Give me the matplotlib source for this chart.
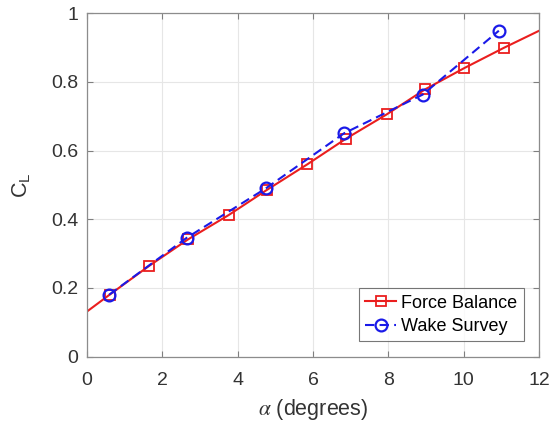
import matplotlib
matplotlib.use("Agg")
import matplotlib.pyplot as plt

plt.rcParams['font.family'] = ['Liberation Sans', 'DejaVu Sans']
plt.rcParams['mathtext.fontset'] = 'stix'

# force balance (end points 0 and 12 are the line extension, no marker)
fb_alpha = [0.0, 0.6, 1.65, 2.68, 3.76, 4.77, 5.85, 6.88, 7.95, 8.97, 10.01, 11.06, 12.0]
fb_cl = [0.131, 0.180, 0.264, 0.341, 0.412, 0.485, 0.560, 0.635, 0.705, 0.778, 0.840, 0.899, 0.949]

# wake survey
ws_alpha = [0.59, 2.65, 4.75, 6.82, 8.91, 10.93]
ws_cl = [0.180, 0.346, 0.490, 0.650, 0.763, 0.949]

fig = plt.figure(figsize=(5.57, 4.26), dpi=100)
ax = fig.add_axes([0.156, 0.163, 0.812, 0.806])

ax.plot(fb_alpha, fb_cl, '-s', color='#ea1e1e', lw=1.5, ms=7.5, mfc='none', mew=1.3,
        markevery=list(range(1, len(fb_alpha) - 1)), label='Force Balance')
ax.plot(ws_alpha, ws_cl, '--o', color='#1a1ae8', lw=1.5, ms=8.5, mfc='none', mew=1.6,
        dashes=(4.5, 2.5), label='Wake Survey')

ax.set_xlim(0, 12)
ax.set_ylim(0, 1)
ax.set_xticks(range(0, 13, 2))
ax.set_yticks([0, 0.2, 0.4, 0.6, 0.8, 1])
ax.set_yticklabels(['0', '0.2', '0.4', '0.6', '0.8', '1'])
ax.grid(True, color='#e6e6e6', lw=0.8)
ax.set_axisbelow(True)
ax.tick_params(direction='in', top=True, right=True, labelsize=14, colors='#7f7f7f',
               labelcolor='#333333', length=4, width=0.8)
ax.tick_params(axis='x', pad=11)
ax.tick_params(axis='y', pad=6)
for s in ax.spines.values():
    s.set_color('#8c8c8c')
    s.set_linewidth(0.9)

ax.set_xlabel(r'$\alpha$ (degrees)', fontsize=15.5, color='#333333', labelpad=6)
ax.set_ylabel(r'C$_\mathregular{L}$', fontsize=15.5, color='#333333', labelpad=14)

leg = ax.legend(loc='lower right', fontsize=13, frameon=True, fancybox=False,
                edgecolor='#555555', borderpad=0.35, handlelength=1.7,
                handletextpad=0.3, borderaxespad=0.85, labelspacing=0.35)
leg.get_frame().set_linewidth(0.8)

fig.savefig('out.png', dpi=100)
